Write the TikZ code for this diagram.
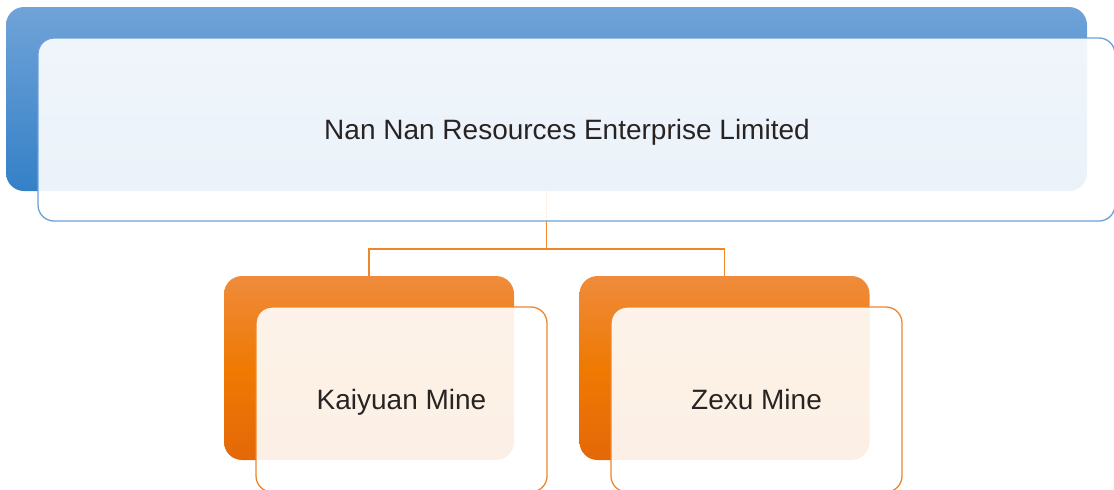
\documentclass[tikz,border=0pt]{standalone}
\usepackage{fontspec}
\setmainfont{Liberation Sans}
\usetikzlibrary{calc}

\definecolor{blueTop}{RGB}{112,163,216}
\definecolor{blueBot}{RGB}{52,128,199}
\definecolor{blueLine}{RGB}{108,160,214}
\definecolor{orTop}{RGB}{239,139,60}
\definecolor{orMid}{RGB}{239,122,2}
\definecolor{orBot}{RGB}{228,104,8}
\definecolor{orLine}{RGB}{238,134,44}
\definecolor{txt}{RGB}{40,36,36}

\tikzset{
  panel/.style={rectangle, inner sep=0pt, outer sep=0pt, rounded corners=18pt},
  blueback/.style={panel, top color=blueTop, bottom color=blueBot},
  orangeback/.style={panel, top color=orTop, bottom color=orBot, middle color=orMid},
  card/.style={rectangle, inner sep=0pt, outer sep=0pt, rounded corners=16pt,
               fill=white, fill opacity=0.9, line width=1.3pt},
  bluecard/.style={card, draw=blueLine},
  orangecard/.style={card, draw=orLine},
  conn/.style={draw=orLine, line width=1.3pt},
  label/.style={text=txt, font=\fontsize{28}{34}\selectfont, inner sep=0pt, anchor=base}
}

\begin{document}
\begin{tikzpicture}[x=1pt, y=-1pt]
  \useasboundingbox (0,0) rectangle (1114,490);
  \clip (0,0) rectangle (1114,490);

  % parent company
  \node[blueback, minimum width=1081pt, minimum height=184pt] (topback) at (546.5,99) {};

  % branch lines to the two mines
  \coordinate (fork) at ($(topback.south)+(0,58)$);
  \draw[conn] (topback.south) -- (fork) -| (369,276) coordinate (kaitop);
  \draw[conn] (fork) -| (724.5,276) coordinate (zextop);

  \node[bluecard, minimum width=1077pt, minimum height=183pt] (topfront) at (576.5,129.5) {};
  \node[label] (toplabel) at (567,139) {Nan Nan Resources Enterprise Limited};

  % Kaiyuan Mine
  \node[orangeback, minimum width=290pt, minimum height=184pt] (kaiback) at (369,368) {};
  \node[orangecard, minimum width=291pt, minimum height=185pt] (kaifront) at (401.5,399.5) {};
  \node[label] (kailabel) at (401.5,409) {Kaiyuan Mine};

  % Zexu Mine
  \node[orangeback, minimum width=290pt, minimum height=184pt] (zexback) at (724.5,368) {};
  \node[orangecard, minimum width=291pt, minimum height=185pt] (zexfront) at (756.5,399.5) {};
  \node[label] (zexlabel) at (756.5,409) {Zexu Mine};
\end{tikzpicture}
\end{document}
